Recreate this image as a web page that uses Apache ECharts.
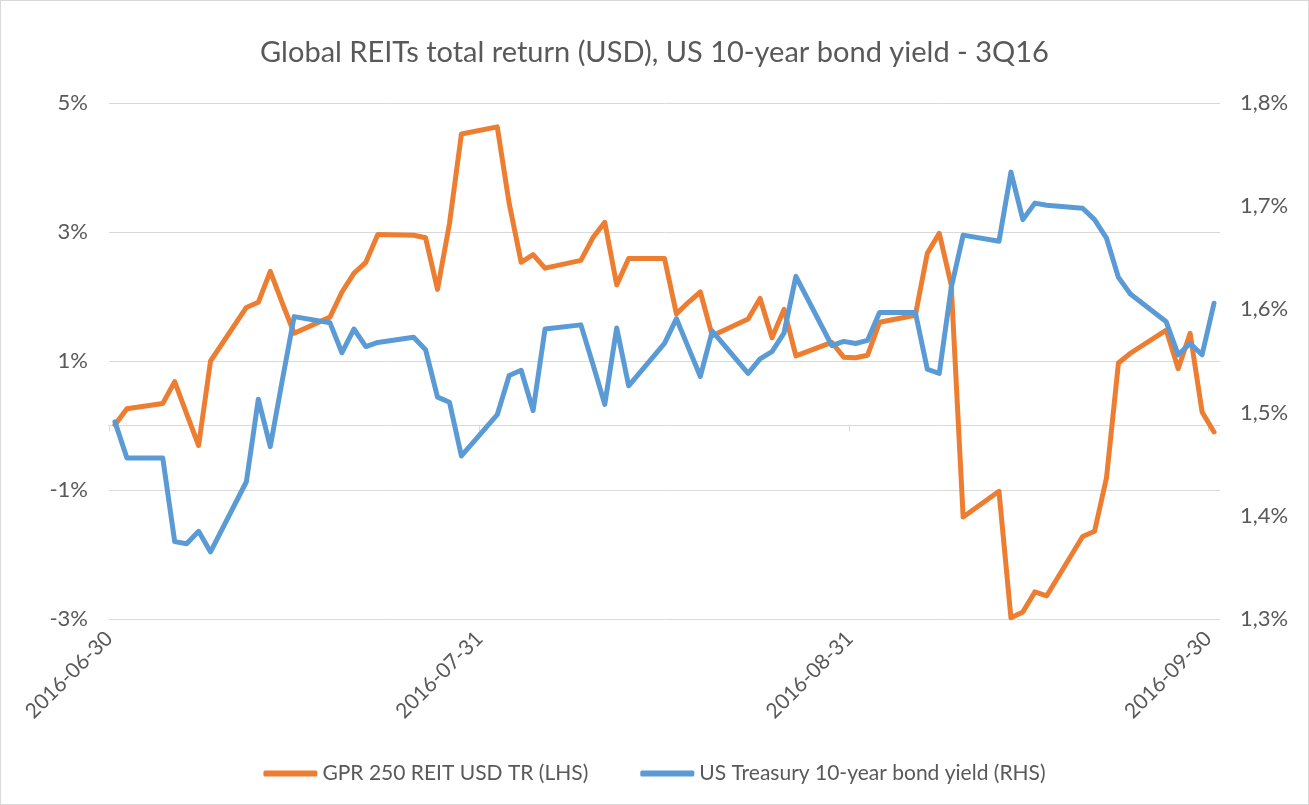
<!DOCTYPE html>
<html>
<head>
<meta charset="utf-8">
<script src="https://cdn.jsdelivr.net/npm/echarts@6/dist/echarts.min.js"></script>
<style>
  html, body { margin: 0; padding: 0; background: #fff; }
  #chart { width: 1309px; height: 805px; box-sizing: border-box; border: 1px solid #d9d9d9; }
</style>
</head>
<body>
<div id="chart"></div>
<script>
const titleText = 'Global REITs total return (USD), US 10-year bond yield - 3Q16';
const seriesNames = ['GPR 250 REIT USD TR (LHS)', 'US Treasury 10-year bond yield (RHS)'];

const dates = ['2016-06-30','2016-07-01','2016-07-04','2016-07-05','2016-07-06','2016-07-07','2016-07-08',
  '2016-07-11','2016-07-12','2016-07-13','2016-07-14','2016-07-15','2016-07-18','2016-07-19','2016-07-20',
  '2016-07-21','2016-07-22','2016-07-25','2016-07-26','2016-07-27','2016-07-28','2016-07-29','2016-08-01',
  '2016-08-02','2016-08-03','2016-08-04','2016-08-05','2016-08-08','2016-08-09','2016-08-10','2016-08-11',
  '2016-08-12','2016-08-15','2016-08-16','2016-08-17','2016-08-18','2016-08-19','2016-08-22','2016-08-23',
  '2016-08-24','2016-08-25','2016-08-26','2016-08-29','2016-08-30','2016-08-31','2016-09-01','2016-09-02',
  '2016-09-05','2016-09-06','2016-09-07','2016-09-08','2016-09-09','2016-09-12','2016-09-13','2016-09-14',
  '2016-09-15','2016-09-16','2016-09-19','2016-09-20','2016-09-21','2016-09-22','2016-09-23','2016-09-26',
  '2016-09-27','2016-09-28','2016-09-29','2016-09-30'];

// GPR 250 REIT USD total return, cumulative % (LHS)
const reitTR = [0.01,0.26,0.34,0.68,0.18,-0.31,1.00,
  1.83,1.91,2.39,1.90,1.43,1.68,2.07,2.36,
  2.53,2.96,2.95,2.91,2.11,3.13,4.52,4.63,
  3.44,2.53,2.65,2.44,2.56,2.91,3.15,2.18,
  2.59,2.59,1.73,1.91,2.07,1.39,1.65,1.97,
  1.36,1.80,1.08,1.29,1.06,1.05,1.09,1.60,
  1.71,2.67,2.98,2.18,-1.42,-1.02,-2.98,-2.89,
  -2.58,-2.64,-1.72,-1.64,-0.81,0.97,1.12,1.48,
  0.88,1.43,0.21,-0.10];

// US Treasury 10-year yield, % (RHS)
const ust10y = [1.491,1.456,1.456,1.375,1.373,1.385,1.365,
  1.433,1.513,1.467,1.531,1.593,1.587,1.558,1.581,
  1.564,1.568,1.573,1.561,1.515,1.510,1.458,1.498,
  1.536,1.541,1.502,1.581,1.585,1.547,1.508,1.582,
  1.526,1.567,1.591,1.563,1.535,1.579,1.538,1.552,
  1.559,1.577,1.632,1.565,1.569,1.567,1.570,1.597,
  1.597,1.542,1.538,1.621,1.672,1.666,1.733,1.687,
  1.703,1.701,1.698,1.687,1.669,1.631,1.615,1.588,
  1.556,1.567,1.556,1.606];

const xTickDates = ['2016-06-30','2016-07-31','2016-08-31','2016-09-30'];
const leftAxis = { min: -3, max: 5, interval: 2 };
const rightAxis = { min: 1.3, max: 1.8, interval: 0.1 };

const HALF_DAY = 12 * 3600 * 1000;
function ts(s) { const p = s.split('-').map(Number); return Date.UTC(p[0], p[1] - 1, p[2]); }
function fmtDate(v) {
  const d = new Date(v + HALF_DAY);
  const mm = String(d.getUTCMonth() + 1).padStart(2, '0');
  const dd = String(d.getUTCDate()).padStart(2, '0');
  return d.getUTCFullYear() + '-' + mm + '-' + dd;
}
const xMin = ts(dates[0]) - HALF_DAY;
const xMax = ts(dates[dates.length - 1]) + HALF_DAY;
const tickVals = xTickDates.map(s => ts(s) - HALF_DAY);

const FONT = 'Lato, "Open Sans", sans-serif';
const TXT = '#595959';
const GRID = '#d9d9d9';

const chart = echarts.init(document.getElementById('chart'), null, { renderer: 'canvas' });
chart.setOption({
  animation: false,
  backgroundColor: '#ffffff',
  title: {
    text: titleText, left: 'center', top: 32,
    textStyle: { fontFamily: FONT, fontSize: 29, fontWeight: 'normal', color: TXT }
  },
  legend: {
    bottom: 15, left: 'center', itemWidth: 54, itemHeight: 6, itemGap: 52,
    icon: 'roundRect',
    textStyle: { fontFamily: FONT, fontSize: 21, color: TXT },
    data: seriesNames
  },
  grid: { left: 108, right: 88, top: 102, bottom: 185, containLabel: false },
  xAxis: [
    {
      type: 'value', min: xMin, max: xMax, position: 'bottom',
      axisLine: { show: false, onZero: false }, axisTick: { show: false }, splitLine: { show: false },
      axisLabel: {
        customValues: tickVals, rotate: 45, margin: 16,
        fontFamily: FONT, fontSize: 21, color: TXT,
        formatter: v => fmtDate(v)
      }
    },
    {
      type: 'value', min: xMin, max: xMax, position: 'top',
      axisLine: { show: true, onZero: true, onZeroAxisIndex: 0, lineStyle: { color: GRID, width: 1 } },
      axisTick: { show: true, inside: true, length: 6, customValues: tickVals, lineStyle: { color: GRID } },
      axisLabel: { show: false }, splitLine: { show: false }
    }
  ],
  yAxis: [
    {
      type: 'value', position: 'left', min: leftAxis.min, max: leftAxis.max, interval: leftAxis.interval,
      axisLine: { show: false }, axisTick: { show: false },
      splitLine: { show: true, lineStyle: { color: GRID, width: 1 } },
      axisLabel: { margin: 21, fontFamily: FONT, fontSize: 22, color: TXT, formatter: v => Math.round(v) + '%' }
    },
    {
      type: 'value', position: 'right', min: rightAxis.min, max: rightAxis.max, interval: rightAxis.interval,
      axisLine: { show: false }, axisTick: { show: false }, splitLine: { show: false },
      axisLabel: { margin: 20, fontFamily: FONT, fontSize: 22, color: TXT,
        formatter: v => v.toFixed(1).replace('.', ',') + '%' }
    }
  ],
  series: [
    {
      name: seriesNames[0], type: 'line', xAxisIndex: 0, yAxisIndex: 0,
      data: dates.map((d, i) => [ts(d), reitTR[i]]),
      symbol: 'none', color: '#ED7D31',
      lineStyle: { width: 5, color: '#ED7D31', cap: 'round', join: 'round' }, z: 3
    },
    {
      name: seriesNames[1], type: 'line', xAxisIndex: 0, yAxisIndex: 1,
      data: dates.map((d, i) => [ts(d), ust10y[i]]),
      symbol: 'none', color: '#5B9BD5',
      lineStyle: { width: 5, color: '#5B9BD5', cap: 'round', join: 'round' }, z: 4
    }
  ]
});
</script>
</body>
</html>
